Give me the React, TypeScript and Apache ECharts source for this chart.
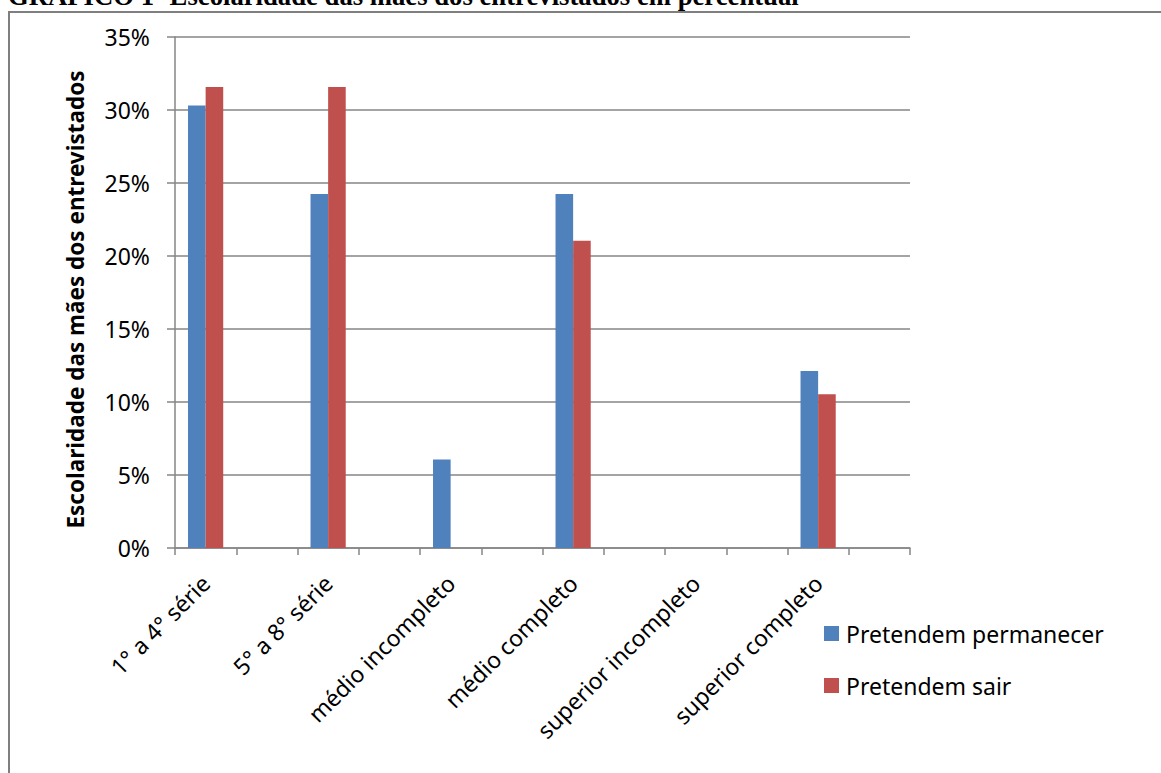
import React, { useEffect, useRef } from "react";
import * as echarts from "echarts";

const categories = [
  "1° a 4° série",
  "5° a 8° série",
  "médio incompleto",
  "médio completo",
  "superior incompleto",
  "superior completo",
];
const permanecer = [0.303, 0.2424, 0.0606, 0.2424, 0, 0.1212];
const sair = [0.3158, 0.3158, 0, 0.2105, 0, 0.1053];
const yTicks = [0, 0.05, 0.1, 0.15, 0.2, 0.25, 0.3, 0.35];
const seriesNames = ["Pretendem permanecer", "Pretendem sair"];
const titleText = "GRÁFICO 1- Escolaridade das mães dos entrevistados em percentual";
const yAxisTitle = "Escolaridade das mães dos entrevistados";

// Excel layout has a blank category after each named one
const interleave = <T,>(arr: T[], blank: T): T[] => arr.flatMap((v) => [v, blank]);

export default function App() {
  const ref = useRef<HTMLDivElement>(null);
  useEffect(() => {
    if (!ref.current) return;
    const chart = echarts.init(ref.current, null, { renderer: "svg" });
    const font = "'Noto Sans', sans-serif";
    const gridColor = "#868686";
    chart.setOption({
      animation: false,
      backgroundColor: "#ffffff",
      graphic: [
        {
          type: "text",
          x: 8,
          y: -18,
          style: {
            text: titleText,
            font: "bold 26.7px 'Liberation Serif', 'Times New Roman', serif",
            fill: "#000",
            verticalAlign: "top",
          },
        },
        {
          type: "rect",
          shape: { x: 9, y: 12, width: 1200, height: 800 },
          style: { fill: "none", stroke: "#7f7f7f", lineWidth: 2 },
          silent: true,
        },
      ],
      grid: { left: 175, top: 37, right: 251, bottom: 225 },
      legend: {
        orient: "vertical",
        left: 819,
        top: 617,
        itemWidth: 15,
        itemHeight: 15,
        itemGap: 29,
        icon: "rect",
        textStyle: { fontFamily: font, fontSize: 23, color: "#000", padding: [0, 0, 0, 2] },
        data: seriesNames,
      },
      xAxis: {
        type: "category",
        data: interleave(categories, ""),
        axisLine: { lineStyle: { color: gridColor, width: 1.5 } },
        axisTick: { show: true, interval: 0, length: 7, lineStyle: { color: gridColor, width: 1.5 } },
        axisLabel: {
          interval: 0,
          rotate: 45,
          margin: 31,
          fontFamily: font,
          fontSize: 23,
          color: "#000",
        },
      },
      yAxis: {
        type: "value",
        min: 0,
        max: yTicks[yTicks.length - 1],
        interval: yTicks[1] - yTicks[0],
        name: yAxisTitle,
        nameLocation: "middle",
        nameRotate: 90,
        nameGap: 88,
        nameTextStyle: {
          fontFamily: font,
          fontSize: 22.5,
          fontWeight: "bold",
          color: "#000",
          padding: [0, 14, 0, 0],
        },
        axisLine: { show: true, lineStyle: { color: gridColor, width: 1.5 } },
        axisTick: { show: true, length: 8, lineStyle: { color: gridColor, width: 1.5 } },
        splitLine: { lineStyle: { color: gridColor, width: 1.5 } },
        axisLabel: {
          margin: 25,
          fontFamily: font,
          fontSize: 23,
          color: "#000",
          formatter: (v: number) => `${Math.round(v * 100)}%`,
        },
      },
      series: [
        {
          name: seriesNames[0],
          type: "bar",
          data: interleave(permanecer, null as any),
          barWidth: 17.6,
          barGap: "0%",
          itemStyle: { color: "#4F81BD" },
        },
        {
          name: seriesNames[1],
          type: "bar",
          data: interleave(sair, null as any),
          barWidth: 17.6,
          barGap: "0%",
          itemStyle: { color: "#C0504D" },
        },
      ],
    });
    return () => chart.dispose();
  }, []);
  return (
    <div
      ref={ref}
      style={{ position: "fixed", left: 0, top: 0, width: 1161, height: 773, background: "#fff" }}
    />
  );
}
